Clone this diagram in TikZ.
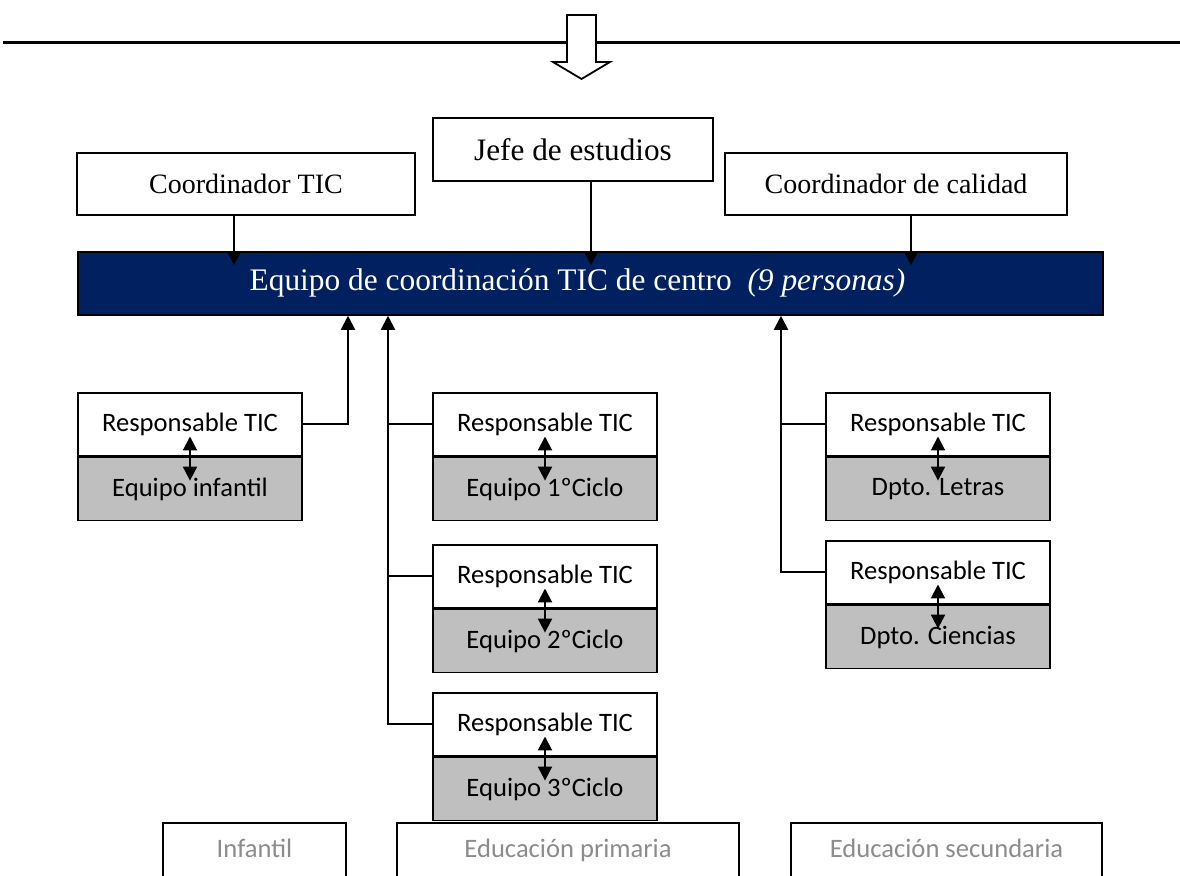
\documentclass[tikz,border=0pt]{standalone}
\usepackage{fontspec}
\setmainfont{Liberation Serif}
\newfontfamily\calibri{Carlito}
\usetikzlibrary{arrows.meta,positioning}
\definecolor{navy}{HTML}{002060}
\definecolor{teamgray}{HTML}{BFBFBF}
\definecolor{stagegray}{HTML}{8C8C8C}
\tikzstyle{arrow} = [line width=1pt,->,>={Triangle[length=7pt,width=7pt]}]
\tikzstyle{dblarrow} = [line width=1pt,<->,>={Triangle[length=7pt,width=7pt]}]
\tikzstyle{topbox} = [draw, line width=0.8pt, fill=white, inner sep=0pt, minimum height=31pt, font=\fontsize{14}{16}\selectfont]
\tikzstyle{respbox} = [draw, line width=0.8pt, fill=white, inner sep=0pt, minimum width=112pt, minimum height=31.5pt, font=\calibri\fontsize{13.3}{15}\selectfont]
\tikzstyle{teambox} = [respbox, fill=teamgray]
\tikzstyle{stagebox} = [draw, line width=1pt, anchor=north, inner sep=0pt, text height=17.5pt, text depth=22pt, text=stagegray, font=\calibri\fontsize{13.3}{15}\selectfont]

\begin{document}
\begin{tikzpicture}[x=0.5pt,y=-0.5pt]
    \useasboundingbox (0,0) rectangle (1180,876);
    % top rule and hollow arrow
    \draw[line width=1.5pt] (3,43) -- (1180,43);
    \draw[line width=0.9pt, fill=white] (567,15) -- (596,15) -- (596,62) -- (610,62) -- (581.5,79) -- (553,62) -- (567,62) -- cycle;
    % create the nodes
    \node (ctic) [topbox, minimum width=169pt] at (246,184) {Coordinador TIC};
    \node (jefe) [topbox, minimum width=140pt, minimum height=31.5pt, font=\fontsize{15.6}{17}\selectfont] at (573,149.5) {Jefe de estudios};
    \node (calidad) [topbox, minimum width=171pt] at (896,184) {Coordinador de calidad};
    \node (equipo) [draw, line width=0.8pt, fill=navy, minimum width=512.5pt, minimum height=31.5pt] at (590.5,283.5) {};
    \node (equipolbl) [text=white, font=\fontsize{15.7}{18}\selectfont] at (577.5,283) {Equipo de coordinación TIC de centro\ \ \textit{(9 personas)}};
    \node (resp1) [respbox] at (190,424.5) {Responsable TIC};
    \node (team1) [teambox, below=0pt of resp1] {Equipo infantil};
    \node (resp2) [respbox] at (545,424.5) {Responsable TIC};
    \node (team2) [teambox, below=0pt of resp2] {Equipo 1ºCiclo};
    \node (resp3) [respbox] at (545,576.5) {Responsable TIC};
    \node (team3) [teambox, below=0pt of resp3] {Equipo 2ºCiclo};
    \node (resp4) [respbox] at (545,724.5) {Responsable TIC};
    \node (team4) [teambox, below=0pt of resp4] {Equipo 3ºCiclo};
    \node (resp5) [respbox] at (938,424.5) {Responsable TIC};
    \node (team5) [teambox, below=0pt of resp5] {Dpto. Letras};
    \node (resp6) [respbox] at (938,572.5) {Responsable TIC};
    \node (team6) [teambox, below=0pt of resp6] {Dpto. Ciencias};
    \node (infantil) [stagebox, minimum width=91.5pt] at (254.5,822) {Infantil};
    \node (primaria) [stagebox, minimum width=171pt] at (568,822) {Educación primaria};
    \node (secundaria) [stagebox, minimum width=155.5pt] at (946.5,822) {Educación secundaria};
    % connect the nodes
    \draw[arrow, shorten >=-7pt] (ctic.south -| 234,0) -- (234,0 |- equipo.north);
    \draw[arrow, shorten >=-7pt] (jefe.south -| 591,0) -- (591,0 |- equipo.north);
    \draw[arrow, shorten >=-7pt] (calidad.south -| 911,0) -- (911,0 |- equipo.north);
    \draw[arrow] (resp1.east) -| (348,0 |- equipo.south);
    \draw[arrow] (resp4.west) -| (388,0 |- equipo.south);
    \draw[line width=1pt] (resp2.west) -- (388,0 |- resp2.west);
    \draw[line width=1pt] (resp3.west) -- (388,0 |- resp3.west);
    \draw[arrow] (resp6.west) -| (781,0 |- equipo.south);
    \draw[line width=1pt] (resp5.west) -- (781,0 |- resp5.west);
    \foreach \i in {1,...,6}
        \draw[dblarrow] ([yshift=-6pt]resp\i.center) -- ([yshift=4.25pt]team\i.center);
\end{tikzpicture}
\end{document}
